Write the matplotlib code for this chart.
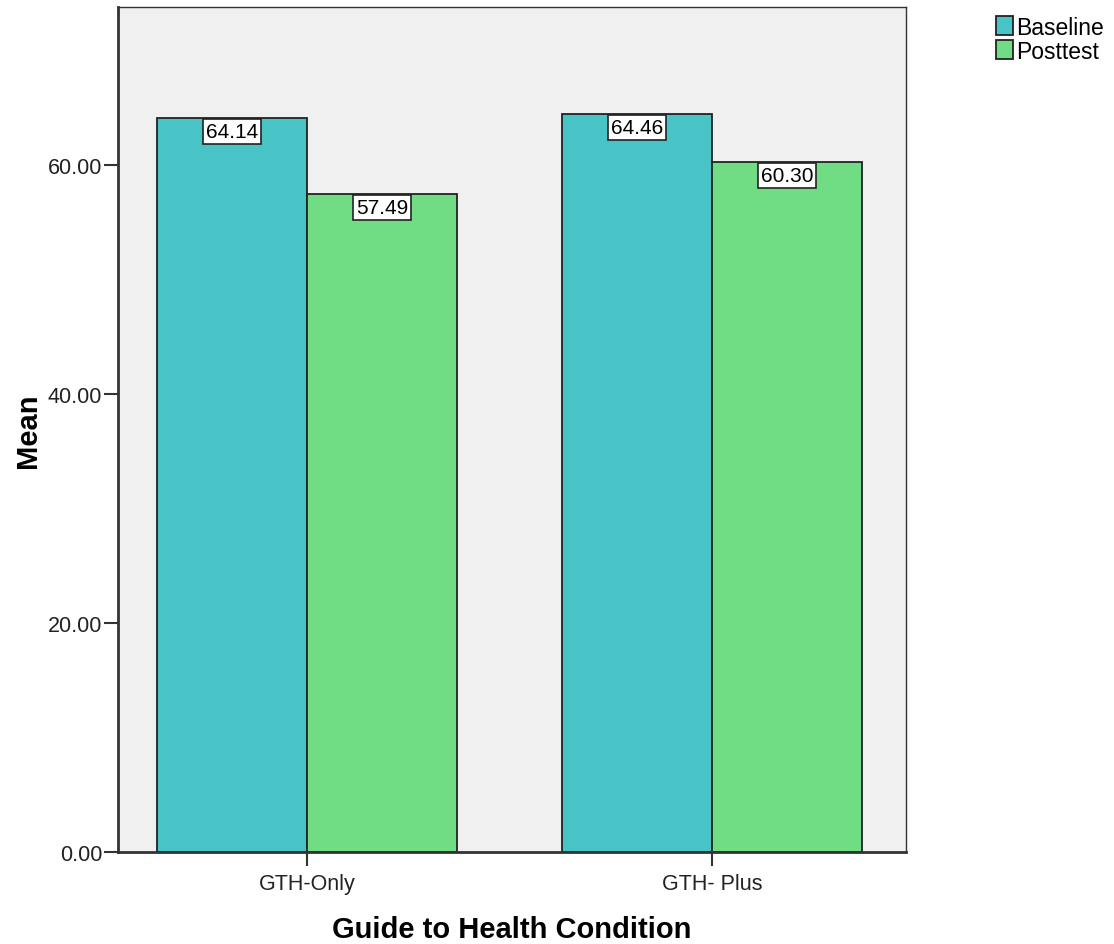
import numpy as np
import matplotlib
matplotlib.use('Agg')
import matplotlib.pyplot as plt

plt.rcParams['font.family'] = ['Liberation Sans', 'DejaVu Sans']

# data
conditions = ['GTH-Only', 'GTH- Plus']
baseline = [64.14, 64.46]
posttest = [57.49, 60.30]
series_names = ['Baseline', 'Posttest']
yticks = [0, 20, 40, 60]

colors = ['#48c3c6', '#70dc84']

fig = plt.figure(figsize=(11.14, 9.45), dpi=100)
ax = fig.add_axes([0.1059, 0.0974, 0.7074, 0.8941])
ax.set_facecolor('#f0f0f0')

x = np.arange(len(conditions))
w = 0.37
for i, vals in enumerate([baseline, posttest]):
    offs = (i - 0.5) * w
    ax.bar(x + offs, vals, w, color=colors[i], edgecolor='#222222',
           linewidth=1.3, label=series_names[i], zorder=2)
    for xi, v in zip(x + offs, vals):
        ax.annotate('%.2f' % v, xy=(xi, v), xytext=(0, -3),
                    textcoords='offset points', ha='center', va='top',
                    fontsize=15, zorder=4,
                    bbox=dict(boxstyle='square,pad=0.15', fc='white',
                              ec='#222222', lw=1.2))

ax.set_xlim(-0.467, 1.479)
ax.set_ylim(0, 73.8)
ax.set_yticks(yticks)
ax.set_yticklabels(['%.2f' % t for t in yticks], fontsize=15.5, color='#222222')
ax.set_xticks(x)
ax.set_xticklabels(conditions, fontsize=15.5, color='#222222')
ax.tick_params(axis='both', direction='out', length=10, width=1.5,
               color='#333333', pad=1.5)
ax.tick_params(axis='x', pad=5)
for s in ax.spines.values():
    s.set_color('#333333')
    s.set_linewidth(1.0)
ax.spines['left'].set_linewidth(2.0)
ax.spines['bottom'].set_linewidth(2.0)

ax.set_ylabel('Mean', fontsize=21, fontweight='bold', labelpad=4)
ax.set_xlabel('Guide to Health Condition', fontsize=21, fontweight='bold', labelpad=15)

fig.legend(loc='upper left', bbox_to_anchor=(0.886, 0.992), frameon=False,
           fontsize=16.5, handlelength=0.75, handleheight=0.9, handletextpad=0.12,
           labelspacing=0.05, borderaxespad=0)

fig.savefig('out.png', dpi=100)
